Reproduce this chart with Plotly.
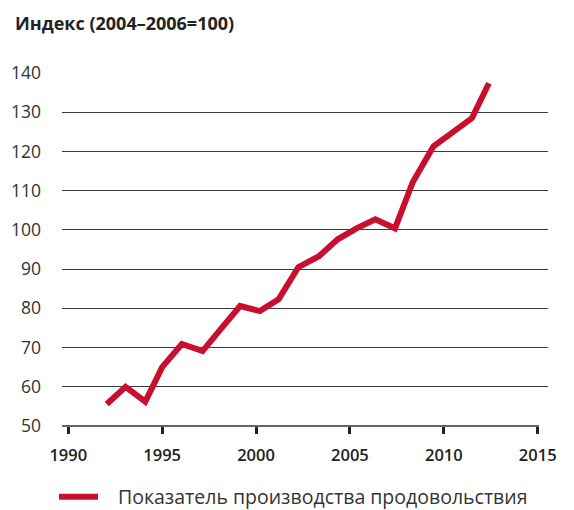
import plotly.graph_objects as go

# Data
years = [1992.05, 1993.05, 1994.1, 1995.0, 1996.05, 1997.15, 1998.15, 1999.15, 2000.2, 2001.2,
         2002.25, 2003.35, 2004.35, 2005.35, 2006.35, 2007.4, 2008.35, 2009.45, 2010.5, 2011.5, 2012.4]
index_values = [55.6, 60.0, 56.2, 65.0, 70.9, 69.1, 74.9, 80.6, 79.3, 82.3,
                90.5, 93.3, 97.6, 100.4, 102.7, 100.4, 112.2, 121.3, 125.0, 128.5, 137.4]
x_ticks = [1990, 1995, 2000, 2005, 2010, 2015]
y_ticks = [50, 60, 70, 80, 90, 100, 110, 120, 130, 140]
series_name = "Показатель производства продовольствия"
y_title = "Индекс (2004–2006=100)"
line_color = "#C8102E"

W, H = 574, 510
L, R = 54, 540
T, B = 64.7, 418

px_per_year = (529.7 - 60.3) / 25.0
x0 = 1990 - (60.3 - L) / px_per_year
x1 = 2015 + (R - 529.7) / px_per_year


def px(xp):
    return (xp - L) / (R - L)


def py(yp):
    return (B - yp) / (B - T)


fig = go.Figure()
fig.add_trace(go.Scatter(
    x=years, y=index_values, mode="lines", name=series_name,
    line=dict(color=line_color, width=6),
    cliponaxis=False, showlegend=False,
))

fig.update_layout(
    width=W, height=H,
    margin=dict(l=L, r=W - R, t=T, b=H - B, autoexpand=False),
    paper_bgcolor="white", plot_bgcolor="white",
    font=dict(family="Open Sans", color="#333333"),
    showlegend=False,
    xaxis=dict(range=[x0, x1], tickvals=x_ticks, showgrid=False, zeroline=False,
               automargin=False,
               ticks="outside", ticklen=7, tickwidth=2.5, tickcolor="#222222",
               ticklabelstandoff=7,
               tickfont=dict(size=16.5, color="#222222", family="Open Sans", weight=600),
               showline=False),
    yaxis=dict(range=[50, 140], tickvals=y_ticks, showgrid=True, gridcolor="#3a3a3a", gridwidth=1.3,
               automargin=False,
               zeroline=False, showline=False, ticks="", ticklabelstandoff=20,
               tickfont=dict(size=17.5, color="#333333")),
    annotations=[
        dict(text="<b>" + y_title + "</b>", xref="paper", yref="paper",
             x=px(5), y=py(15), xanchor="left", yanchor="middle",
             showarrow=False, font=dict(size=18, color="#222222")),
        dict(text=series_name, xref="paper", yref="paper",
             x=px(108), y=py(489), xanchor="left", yanchor="middle",
             showarrow=False, font=dict(size=19.5, color="#333333")),
    ],
    shapes=[
        dict(type="line", xref="paper", yref="paper", x0=0, x1=px(531), y0=0, y1=0,
             line=dict(color="#333333", width=1.5), layer="above"),
        dict(type="line", xref="paper", yref="paper", x0=px(51), x1=px(90), y0=py(488.7), y1=py(488.7),
             line=dict(color=line_color, width=6)),
    ],
)

fig.write_html("out.html")
